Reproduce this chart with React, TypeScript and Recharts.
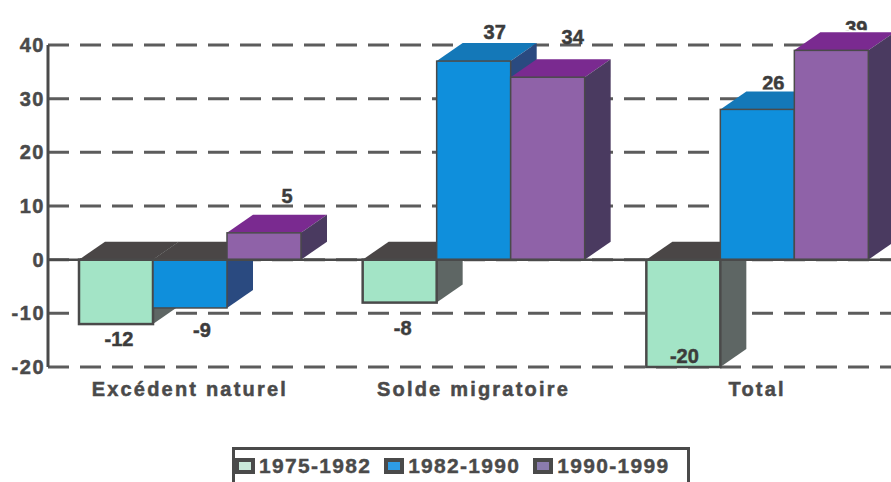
import React from "react"
import { Bar, BarChart, CartesianGrid, LabelList, Legend, ReferenceLine, XAxis, YAxis } from "recharts"

const categories = ["Excédent naturel", "Solde migratoire", "Total"]
const periods = ["1975-1982", "1982-1990", "1990-1999"]
const values1975 = [-12, -8, -20]
const values1982 = [-9, 37, 28]
const values1990 = [5, 34, 39]
const labels1975 = ["-12", "-8", "-20"]
const labels1982 = ["-9", "37", "26"]
const labels1990 = ["5", "34", "39"]
const yTicks = [-20, -10, 0, 10, 20, 30, 40]

const data = categories.map((name, i) => ({
  name,
  a: values1975[i],
  b: values1982[i],
  c: values1990[i],
  la: labels1975[i],
  lb: labels1982[i],
  lc: labels1990[i],
}))

const INK = "#4a4a4a"
const DEPTH_X = 26
const DEPTH_Y = 18
const FONT = "'Liberation Sans', Arial, sans-serif"

const colors = [
  { front: "#a3e4c6", top: "#4a4646", side: "#5e6664", swatch: "#c9e8da", edge: 2.5 },
  { front: "#0f8fdc", top: "#1478b8", side: "#2a4a80", swatch: "#2e9be4", edge: 1.5 },
  { front: "#8f62a8", top: "#7a2a90", side: "#4a3a60", swatch: "#8a7cae", edge: 1.5 },
]
const negativeTop = "#4a4646"

// label nudges, centre of text from bar centre / bar end
const labelShift = [
  [[3, 15], [3, 25], [1, -11]],
  [[12, 22], [21, -29], [16, -27]],
  [[23, -37], [25, -40], [25, -23]],
]

function Bar3D(props: any) {
  const { x, y, width, height, value, series } = props
  const top = Math.min(y, y + height)
  const bottom = Math.max(y, y + height)
  const c = colors[series]
  const negative = (Array.isArray(value) ? value[1] : value) < 0
  const r = x + width
  return (
    <g>
      <polygon
        points={`${x},${top} ${x + DEPTH_X},${top - DEPTH_Y} ${r + DEPTH_X},${top - DEPTH_Y} ${r},${top}`}
        fill={negative ? negativeTop : c.top}
      />
      <polygon
        points={`${r},${top} ${r + DEPTH_X},${top - DEPTH_Y} ${r + DEPTH_X},${bottom - DEPTH_Y} ${r},${bottom}`}
        fill={c.side}
      />
      <rect x={x} y={top} width={width} height={bottom - top} fill={c.front} stroke={INK} strokeWidth={c.edge} />
    </g>
  )
}

function makeLabel(series: number) {
  return function BarLabel(props: any) {
    const { x, y, width, height, value, index } = props
    const top = Math.min(y, y + height)
    const bottom = Math.max(y, y + height)
    const negative = String(value).startsWith("-")
    const [dx, dy] = labelShift[series][index]
    const cx = x + width / 2 + dx
    const cy = (negative ? bottom : top) + dy
    const clipId = `lab-${series}-${index}`
    return (
      <g>
        {!negative && (
          <clipPath id={clipId}>
            <rect x={cx - 30} y={cy - 30} width={60} height={top - DEPTH_Y - 2 - cy + 30} />
          </clipPath>
        )}
        <text
          x={cx}
          y={cy}
          dy="0.36em"
          textAnchor="middle"
          clipPath={negative ? undefined : `url(#${clipId})`}
          style={{ fontFamily: FONT, fontWeight: 700, fontSize: 20, fill: "#3c3c3c", stroke: "#3c3c3c", strokeWidth: 0.5 }}
        >
          {value}
        </text>
      </g>
    )
  }
}

function LegendBox() {
  return (
    <div
      style={{
        boxSizing: "border-box",
        height: 35,
        border: `3px solid ${INK}`,
        borderBottom: "none",
        display: "flex",
        alignItems: "center",
        paddingLeft: 0,
        fontFamily: FONT,
        fontWeight: 700,
        fontSize: 21,
        letterSpacing: 1.3,
        color: INK,
        whiteSpace: "nowrap",
        WebkitTextStroke: "0.4px #4a4a4a",
      }}
    >
      {periods.map((p, i) => (
        <span key={p} style={{ display: "flex", alignItems: "center", marginRight: 13 }}>
          <span
            style={{
              display: "inline-block",
              boxSizing: "border-box",
              width: 20,
              height: 16,
              marginRight: 4,
              background: colors[i].swatch,
              border: `4px solid ${INK}`,
            }}
          />
          {p}
        </span>
      ))}
    </div>
  )
}

export default function App() {
  return (
    <div style={{ position: "absolute", left: 0, top: 0, width: 891, height: 482, overflow: "hidden", background: "#fff" }}>
      <BarChart
        width={910}
        height={482}
        data={data}
        margin={{ top: 45, right: 11, bottom: 0, left: 0 }}
        barSize={74}
        barGap={0}
      >
        <CartesianGrid vertical={false} stroke="#5c5c5c" strokeWidth={3} strokeDasharray="21 11" />
        <XAxis
          dataKey="name"
          axisLine={false}
          tickLine={false}
          height={80}
          tickMargin={9}
          interval={0}
          tick={{ fill: INK, stroke: INK, strokeWidth: 0.5, fontFamily: FONT, fontWeight: 700, fontSize: 20, letterSpacing: 2.2 }}
        />
        <YAxis
          width={48}
          domain={[-20, 40]}
          ticks={yTicks}
          interval={0}
          tickSize={0}
          tickMargin={3}
          axisLine={{ stroke: INK, strokeWidth: 3 }}
          tickLine={false}
          tick={{ fill: INK, stroke: INK, strokeWidth: 0.5, fontFamily: FONT, fontWeight: 700, fontSize: 20, letterSpacing: 1.5 }}
        />
        <Legend
          verticalAlign="bottom"
          content={<LegendBox />}
          wrapperStyle={{ left: 232, width: 458, bottom: 0, height: 35 }}
        />
        <Bar dataKey="a" name={periods[0]} isAnimationActive={false} shape={(p: any) => <Bar3D {...p} series={0} />}>
          <LabelList dataKey="la" content={makeLabel(0)} />
        </Bar>
        <Bar dataKey="b" name={periods[1]} isAnimationActive={false} shape={(p: any) => <Bar3D {...p} series={1} />}>
          <LabelList dataKey="lb" content={makeLabel(1)} />
        </Bar>
        <Bar dataKey="c" name={periods[2]} isAnimationActive={false} shape={(p: any) => <Bar3D {...p} series={2} />}>
          <LabelList dataKey="lc" content={makeLabel(2)} />
        </Bar>
        <ReferenceLine y={0} stroke={INK} strokeWidth={2.5} />
      </BarChart>
    </div>
  )
}
